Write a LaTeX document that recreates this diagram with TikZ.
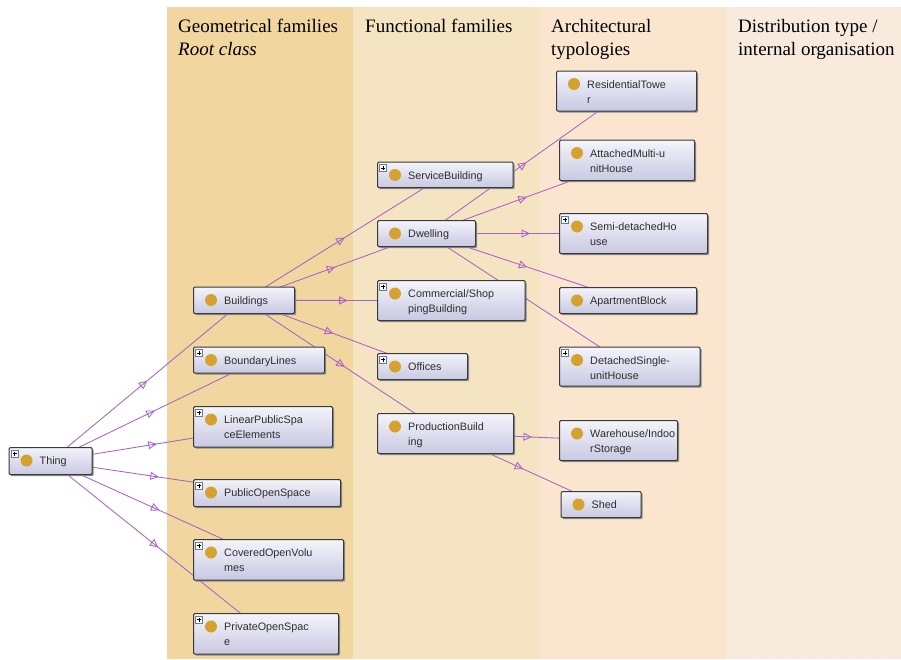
\documentclass[tikz,border=0pt]{standalone}
\usepackage{fontspec}
\setmainfont{Liberation Serif}
\newfontfamily\boxfont{Liberation Sans}
\usetikzlibrary{arrows.meta,decorations.markings,shadows}
\definecolor{colA}{HTML}{F1D69F}
\definecolor{colB}{HTML}{F5E4C1}
\definecolor{colC}{HTML}{FAE6CE}
\definecolor{colD}{HTML}{F8EADC}
\definecolor{boxborder}{HTML}{3A3A3A}
\definecolor{boxtop}{HTML}{F4F4FB}
\definecolor{boxbot}{HTML}{C8C8E2}
\definecolor{shadowc}{HTML}{8C8C8C}
\definecolor{dotc}{HTML}{D5A12F}
\definecolor{edgec}{HTML}{A862C8}
\definecolor{txtc}{HTML}{2E2E2E}
\definecolor{iconc}{HTML}{6A7A92}
\pgfdeclarelayer{bgl}
\pgfdeclarelayer{edgel}
\pgfsetlayers{bgl,edgel,main}
\newcommand\twoline[2]{\vtop{\hbox{#1}\hbox{#2}}}
\newcommand\plusicon[1]{%
  \draw[draw=iconc, fill=white, line width=0.5pt] ([shift={(2.5,3)}]#1.north west) rectangle ++(7,7);
  \draw[black, line width=0.7pt] ([shift={(4,6.5)}]#1.north west) -- ++(4,0);
  \draw[black, line width=0.7pt] ([shift={(6,4.5)}]#1.north west) -- ++(0,4);
}
\newcommand\klass[7]{%
  \node[cls, minimum width=#4pt, minimum height=#5pt] (#1) at (#2,#3) {};
  \fill[dotc] ([shift={(18,13.5)}]#1.north west) circle[radius=6];
  \node[lbl] (#1-t) at ([shift={(31,17.5)}]#1.north west) {#6};
  \ifnum#7=1 \plusicon{#1}\fi
}
\begin{document}
\begin{tikzpicture}[x=1pt,y=-1pt,
  cls/.style={draw=boxborder, line width=1.1pt, rounded corners=1.2pt,
    top color=boxtop, bottom color=boxbot, anchor=north west, inner sep=0pt,
    general shadow={shadow xshift=1.6pt, shadow yshift=-1.6pt, fill=shadowc}},
  lbl/.style={anchor=base west, inner sep=0pt, text=txtc,
    font=\boxfont\fontsize{10.8}{15}\selectfont},
  hdr/.style={anchor=base west, inner sep=0pt, text=black,
    font=\fontsize{19}{23}\selectfont},
  isa/.style={draw=edgec, line width=0.85pt, postaction={decorate},
    decoration={markings, mark=at position 0.5 with {\arrow[edgec, line width=0.85pt]{Triangle[open, length=8.5pt, width=8pt]}}}}
]
\useasboundingbox (0,0) rectangle (901,659);
\begin{pgfonlayer}{bgl}
  \fill[colA] (167,7) rectangle (353,659);
  \fill[colB] (353,7) rectangle (540,659);
  \fill[colC] (540,7) rectangle (727,659);
  \fill[colD] (727,7) rectangle (901,659);
\end{pgfonlayer}

\node[hdr] (h1a) at (178,32) {Geometrical families};
\node[hdr] (h1b) at (178,55) {\itshape Root class};
\node[hdr] (h2a) at (365,32) {Functional families};
\node[hdr] (h3a) at (551,32) {Architectural};
\node[hdr] (h3b) at (551,55) {typologies};
\node[hdr] (h4a) at (738,32) {Distribution type /};
\node[hdr] (h4b) at (738,55) {internal organisation};

\klass{thing}{8.5}{447}{83}{27}{Thing}{1}
\klass{bldg}{193}{286.5}{101}{26.5}{Buildings}{0}
\klass{bound}{193}{346.5}{131}{26}{BoundaryLines}{1}
\klass{linps}{193}{406}{139}{40.5}{\twoline{LinearPublicSpa}{ceElements}}{1}
\klass{pubos}{193}{479}{147}{27}{PublicOpenSpace}{1}
\klass{covov}{193}{539}{150}{40.5}{\twoline{CoveredOpenVolu}{mes}}{1}
\klass{privos}{193}{613}{145}{40.5}{\twoline{PrivateOpenSpac}{e}}{1}
\klass{serv}{377}{161.5}{135.5}{25.5}{ServiceBuilding}{1}
\klass{dwell}{377}{220}{98}{26}{Dwelling}{0}
\klass{comm}{377}{280}{147.5}{40}{\twoline{Commercial/Shop}{pingBuilding}}{1}
\klass{offi}{377}{353}{90}{26}{Offices}{1}
\klass{prod}{377}{413}{136}{40}{\twoline{ProductionBuild}{ing}}{0}
\klass{rest}{556}{70.5}{140}{40}{\twoline{ResidentialTowe}{r}}{0}
\klass{attm}{559}{139.5}{135}{40.5}{\twoline{AttachedMulti-u}{nitHouse}}{0}
\klass{semid}{559}{213}{148}{40}{\twoline{Semi-detachedHo}{use}}{1}
\klass{apart}{559}{287}{137}{26}{ApartmentBlock}{0}
\klass{detsu}{559}{346.5}{140.5}{39}{\twoline{DetachedSingle-}{unitHouse}}{1}
\klass{wareh}{559}{420}{118}{40}{\twoline{Warehouse/Indoo}{rStorage}}{0}
\klass{shed}{560.5}{491}{80}{26}{Shed}{0}

\begin{pgfonlayer}{edgel}
  \foreach \c in {bldg,bound,linps,pubos,covov,privos}
    \draw[isa] (thing.center) -- (\c.center);
  \foreach \c in {serv,dwell,comm,offi,prod}
    \draw[isa] (bldg.center) -- (\c.center);
  \foreach \c in {rest,attm,semid,apart,detsu}
    \draw[isa] (dwell.center) -- (\c.center);
  \foreach \c in {wareh,shed}
    \draw[isa] (prod.center) -- (\c.center);
\end{pgfonlayer}
\end{tikzpicture}
\end{document}
